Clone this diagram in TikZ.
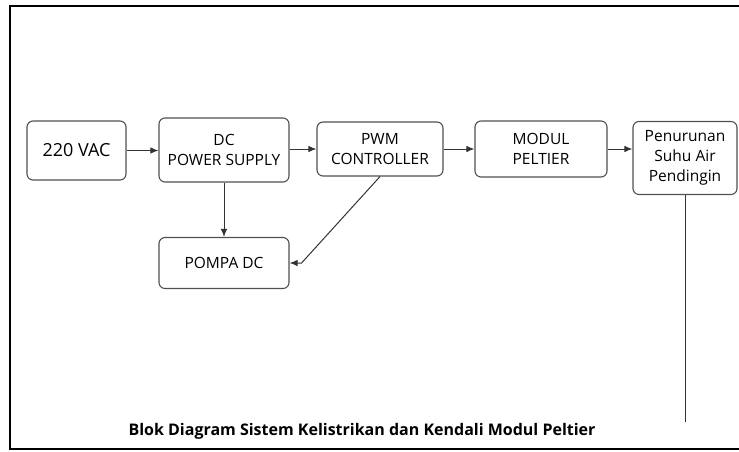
\documentclass[tikz,border=0pt]{standalone}
\usepackage{fontspec}
\setmainfont{Open Sans}
\usetikzlibrary{arrows.meta, positioning, calc}
\definecolor{edgegray}{HTML}{505050}

\begin{document}
\begin{tikzpicture}[x=1pt, y=-1pt,
    blok/.style={draw=edgegray, line width=1.1pt, rounded corners=6pt, fill=white,
        align=center, inner sep=0pt, font=\fontsize{15.5}{20}\selectfont},
    arr/.style={draw=black!80, line width=1pt, -{Latex[length=8pt, width=6.5pt]}},
    garis/.style={draw=black!80, line width=1pt}]
    \useasboundingbox (0,0) rectangle (739,451);

    % Frame
    \draw[line width=2pt] (739,6) -- (10,6) -- (10,449) -- (739,449);

    % Blocks
    \node[blok, minimum width=99pt, minimum height=59pt, font=\fontsize{18}{22}\selectfont] (vac) at (76.5,150.5) {220 VAC};
    \node[blok, minimum width=130pt, minimum height=64pt] (psu) at (224,150) {DC\\POWER SUPPLY};
    \node[blok, minimum width=126pt, minimum height=54pt] (pwm) at (380,149) {PWM\\CONTROLLER};
    \node[blok, minimum width=132pt, minimum height=56pt] (peltier) at (541,149) {MODUL\\PELTIER};
    \node[blok, minimum width=104pt, minimum height=73pt] (cool) at (685,158) {Penurunan\\Suhu Air\\Pendingin};
    \node[blok, minimum width=130pt, minimum height=51pt] (pump) at (224,263) {POMPA DC};

    % Connectors
    \coordinate (pumpin) at ($(pump.east)+(12,0)$);
    \coordinate (coolend) at (685,422);
    \draw[arr] (vac.east) -- (vac.east -| psu.west);
    \draw[arr] (psu.east |- pwm.west) -- (pwm.west);
    \draw[arr] (pwm.east) -- (pwm.east -| peltier.west);
    \draw[arr] (peltier.east) -- (peltier.east -| cool.west);
    \draw[arr] (psu.south) -- (pump.north);
    \draw[arr] (pwm.south) -- (pumpin) -- (pump.east);
    \draw[garis] (cool.south) -- (coolend);

    % Caption
    \node[font=\fontsize{16}{19}\bfseries\selectfont] (judul) at (362,431) {Blok Diagram Sistem Kelistrikan dan Kendali Modul Peltier};
\end{tikzpicture}
\end{document}
